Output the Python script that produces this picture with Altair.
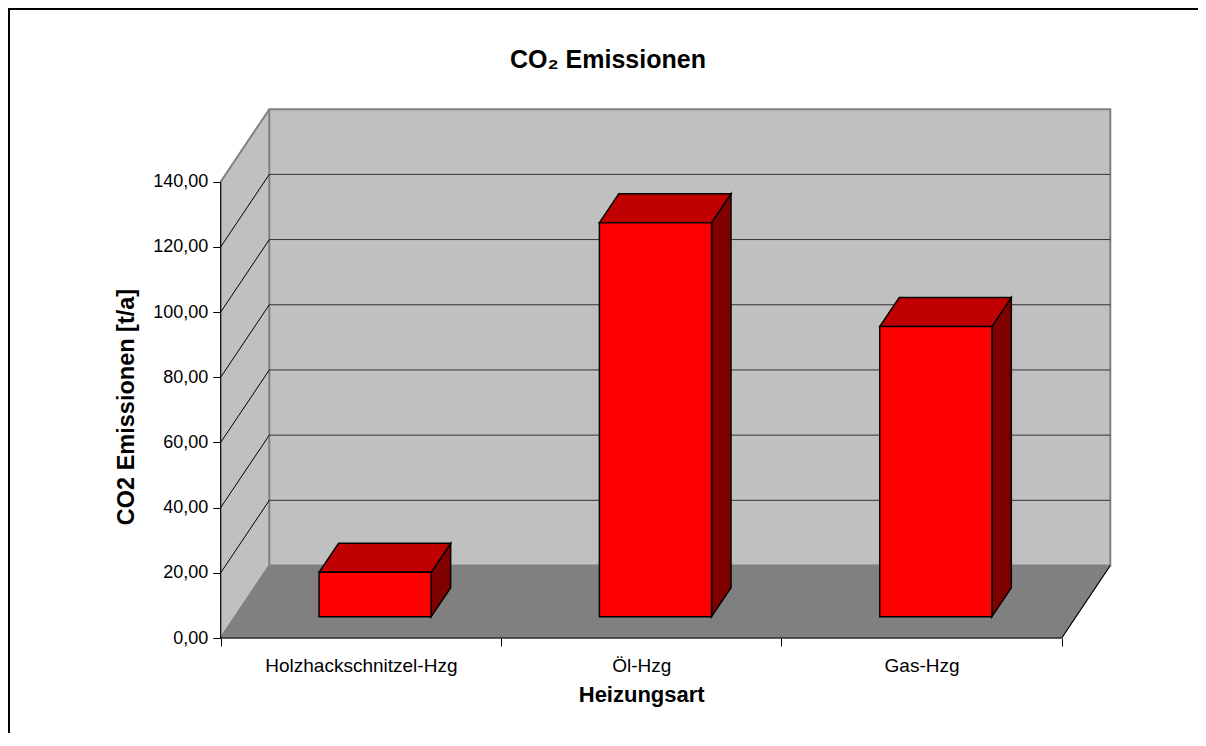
import altair as alt
import pandas as pd

# ---------------- data ----------------
categories = ["Holzhackschnitzel-Hzg", "Öl-Hzg", "Gas-Hzg"]
emissions = [13.6, 120.9, 89.0]
y_ticks = [0, 20, 40, 60, 80, 100, 120, 140]
y_max = 140

title_text = "CO₂ Emissionen"
y_title = "CO2 Emissionen [t/a]"
x_title = "Heizungsart"

# ---------------- layout (pixels) ----------------
FONT = "Liberation Sans"
W, H = 1190, 725            # whole framed area
X0, Y0 = 212.7, 630.0       # position of the front axis origin in the view
PX = 280.33                 # pixels per category band
PY = 456.3 / y_max          # pixels per t/a
DXP, DYP = 48.6, 72.5       # 3-D depth shift in pixels
F, B = 0.294, 0.694         # bar front / back depth fraction
BAR_L, BAR_R = 0.3, 0.7     # bar extent within a band

DX = DXP / PX
DY = DYP / PY
n = len(categories)

xscale = alt.Scale(domain=[-X0 / PX, (W - X0) / PX], nice=False, zero=False)
yscale = alt.Scale(domain=[-(H - Y0) / PY, Y0 / PY], nice=False, zero=False)

names_js = "[" + ",".join("'" + c + "'" for c in categories) + "]"

xaxis = alt.Axis(
    values=[k / 2 for k in range(2 * n + 1)],
    offset=-(H - Y0), domain=False, grid=False,
    tickSize=8, tickColor="black", tickWidth=1,
    tickOpacity={"condition": {"test": "datum.value % 1 !== 0", "value": 0}, "value": 1},
    labelExpr=f"datum.value % 1 === 0 ? '' : {names_js}[floor(datum.value)]",
    labelBaseline="alphabetic", labelPadding=25.7, labelFont=FONT, labelFontSize=19,
    labelColor="black", labelFlush=False, labelOverlap=False, labelAngle=0, labelLimit=0,
    title=x_title, titleFont=FONT, titleFontSize=22, titleFontWeight="bold", titleColor="black",
    titleX=X0 + n / 2 * PX, titleY=63, titleBaseline="alphabetic", titleAlign="center",
)
yaxis = alt.Axis(
    values=y_ticks, offset=-X0, domain=False, grid=False,
    tickSize=8, tickColor="black", tickWidth=1,
    labelExpr="replace(format(datum.value, '.2f'), '.', ',')",
    labelPadding=5, labelFont=FONT, labelFontSize=18, labelColor="black", labelFlush=False,
    title=y_title, titleFont=FONT, titleFontSize=23.5, titleFontWeight="bold", titleColor="black",
    titleX=-87.2, titleY=398.5, titleBaseline="alphabetic", titleAlign="center",
)


def ex(f):
    return alt.X(f + ":Q", scale=xscale, axis=xaxis)


def ey(f):
    return alt.Y(f + ":Q", scale=yscale, axis=yaxis)


# ---------------- walls & floor ----------------
left_wall = pd.DataFrame({"x": [0, DX], "y": [0, DY], "y2": [y_max, y_max + DY]})
back_wall = pd.DataFrame({"x": [DX], "x2": [n + DX], "y": [DY], "y2": [y_max + DY]})
floor = pd.DataFrame({"y": [0, DY], "x": [0, DX], "x2": [n, n + DX]})
back_grid = pd.DataFrame({"x": DX, "x2": n + DX, "y": [v + DY for v in y_ticks[1:-1]]})
side_grid = pd.DataFrame({"x": 0, "x2": DX, "y": y_ticks[1:-1], "y2": [v + DY for v in y_ticks[1:-1]]})
side_edges = pd.DataFrame({"x": 0, "x2": DX, "y": [0, y_max], "y2": [DY, y_max + DY]})
floor_edge = pd.DataFrame({"x": [n], "x2": [n + DX], "y": [0], "y2": [DY]})

wall_left = alt.Chart(left_wall).mark_area(orient="vertical", fill="#C0C0C0", stroke="#C0C0C0").encode(
    x=ex("x"), y=ey("y"), y2=alt.Y2("y2"))
wall_back = alt.Chart(back_wall).mark_rect(fill="#C0C0C0", stroke="#808080", strokeWidth=2).encode(
    x=ex("x"), x2=alt.X2("x2"), y=ey("y"), y2=alt.Y2("y2"))
floor_l = alt.Chart(floor).mark_area(orient="horizontal", fill="#808080", stroke="#808080").encode(
    y=ey("y"), x=ex("x"), x2=alt.X2("x2"))
grid_back = alt.Chart(back_grid).mark_rule(color="#333333", strokeWidth=1).encode(
    x=ex("x"), x2=alt.X2("x2"), y=ey("y"))
grid_side = alt.Chart(side_grid).mark_rule(color="black", strokeWidth=1).encode(
    x=ex("x"), x2=alt.X2("x2"), y=ey("y"), y2=alt.Y2("y2"))
edges_side = alt.Chart(side_edges).mark_rule(color="#808080", strokeWidth=2).encode(
    x=ex("x"), x2=alt.X2("x2"), y=ey("y"), y2=alt.Y2("y2"))
edge_floor = alt.Chart(floor_edge).mark_rule(color="black", strokeWidth=1.2).encode(
    x=ex("x"), x2=alt.X2("x2"), y=ey("y"), y2=alt.Y2("y2"))

# ---------------- bars (3-D boxes) ----------------
front_rows, top_rows, side_rows = [], [], []
for i, (c, v) in enumerate(zip(categories, emissions)):
    front_rows.append({"cat": c, "x": i + BAR_L + F * DX, "x2": i + BAR_R + F * DX,
                       "y": F * DY, "y2": v + F * DY})
    for d in (F, B):
        top_rows.append({"cat": c, "y": v + d * DY, "x": i + BAR_L + d * DX, "x2": i + BAR_R + d * DX})
        side_rows.append({"cat": c, "x": i + BAR_R + d * DX, "y": d * DY, "y2": v + d * DY})

bar_side = alt.Chart(pd.DataFrame(side_rows)).mark_area(
    orient="vertical", fill="#800000", stroke="black", strokeWidth=1.5).encode(
    x=ex("x"), y=ey("y"), y2=alt.Y2("y2"), detail="cat:N")
bar_top = alt.Chart(pd.DataFrame(top_rows)).mark_area(
    orient="horizontal", fill="#C00000", stroke="black", strokeWidth=1.5).encode(
    y=ey("y"), x=ex("x"), x2=alt.X2("x2"), detail="cat:N")
bar_front = alt.Chart(pd.DataFrame(front_rows)).mark_rect(
    fill="#FF0000", stroke="black", strokeWidth=1.5).encode(
    x=ex("x"), x2=alt.X2("x2"), y=ey("y"), y2=alt.Y2("y2"))

# ---------------- axis lines & frame ----------------
y_line = alt.Chart(pd.DataFrame({"x": [0], "y": [0], "y2": [y_max]})).mark_rule(
    color="black", strokeWidth=1.2).encode(x=ex("x"), y=ey("y"), y2=alt.Y2("y2"))
x_line = alt.Chart(pd.DataFrame({"x": [0], "x2": [n], "y": [0]})).mark_rule(
    color="black", strokeWidth=1.2).encode(x=ex("x"), x2=alt.X2("x2"), y=ey("y"))

frame_left = alt.Chart(pd.DataFrame({"k": [0]})).mark_rule(color="black", strokeWidth=2).encode(
    x=alt.value(1), y=alt.value(0), y2=alt.value(H))
frame_top = alt.Chart(pd.DataFrame({"k": [0]})).mark_rule(color="black", strokeWidth=2).encode(
    x=alt.value(0), x2=alt.value(W), y=alt.value(1))

chart = alt.layer(
    wall_left, wall_back, floor_l, grid_back, grid_side, edges_side, edge_floor,
    bar_side, bar_top, bar_front, y_line, x_line, frame_left, frame_top,
).properties(
    width=W, height=H, padding=0,
    autosize=alt.AutoSizeParams(type="none"),
    title=alt.Title(title_text, font=FONT, fontSize=25, fontWeight="bold", color="black",
                    anchor="middle", baseline="alphabetic", offset=-86, dx=5),
).configure_view(strokeWidth=0)

chart.save("out.html", embed_options={"renderer": "svg", "actions": False})
